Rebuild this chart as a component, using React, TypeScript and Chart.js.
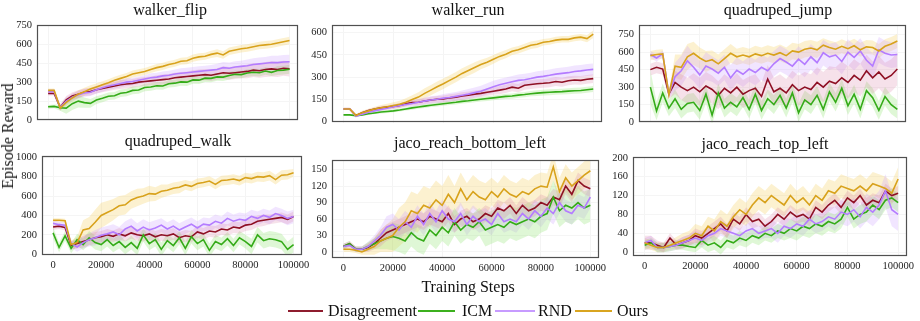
import React, { useEffect, useRef } from "react";
import { Chart, registerables } from "chart.js";
Chart.register(...registerables);

const steps = [0,2500,5000,7500,10000,12500,15000,17500,20000,22500,25000,27500,30000,32500,35000,37500,40000,42500,45000,47500,50000,52500,55000,57500,60000,62500,65000,67500,70000,72500,75000,77500,80000,82500,85000,87500,90000,92500,95000,97500,100000];
const xTicks = [0,20000,40000,60000,80000,100000];
const seriesNames = ["Disagreement","ICM","RND","Ours"];

// walker_flip
const flipDis = [210,210,100,160,190,205,220,225,240,250, 260,270,280,285,290,300,305,310,315,320, 325,335,340,345,350,355,360,355,365,375, 370,375,380,385,395,390,400,405,400,410, 405];
const flipIcm = [105,108,98,95,130,150,138,132,158,172, 188,192,212,218,235,238,258,262,272,270, 288,292,302,300,318,316,332,330,342,340, 352,362,360,372,378,375,388,378,392,395, 402];
const flipRnd = [225,225,100,150,180,200,215,220,240,255, 270,280,290,300,305,315,325,335,340,350, 355,365,370,375,380,385,390,395,400,415, 410,420,425,430,440,445,450,455,455,460, 462];
const flipOurs = [235,235,95,140,175,205,225,245,262,280, 295,315,330,345,365,375,385,400,415,425, 440,450,465,470,490,500,505,520,530,515, 545,555,565,570,580,590,595,600,610,620, 630];
const flipDisS = [15,15,25,30,30,30,30,30,30,30, 30,30,35,35,35,35,35,35,40,40, 40,40,40,40,45,45,45,45,45,50, 50,50,50,55,55,55,60,60,60,60, 60];
const flipIcmS = [15,15,25,45,50,50,40,35,30,30, 30,30,30,30,30,30,30,30,30,30, 30,30,30,30,30,30,30,30,30,30, 30,30,30,30,30,30,30,30,35,35, 35];
const flipRndS = [20,20,25,30,30,30,30,30,30,30, 30,30,30,30,30,30,30,35,35,35, 35,35,40,40,40,40,40,40,45,45, 45,45,45,50,50,50,50,55,55,55, 55];
const flipOursS = [15,15,20,30,30,30,30,30,28,28, 28,28,28,28,28,28,28,28,28,28, 28,28,28,28,28,28,28,28,30,30, 30,30,30,30,30,30,30,30,30,30, 30];

// walker_run
const runDis = [85,85,40,60,75,85,92,97,102,108, 120,128,130,138,145,150,152,160,165,172, 178,185,190,198,205,212,220,232,225,245, 250,255,258,262,270,265,275,280,278,285, 290];
const runIcm = [45,45,40,45,52,58,64,68,72,78, 85,92,98,104,110,115,120,125,130,136, 140,145,150,155,160,165,170,172,178,182, 188,192,195,198,200,202,205,208,210,215, 220];
const runRnd = [85,85,35,50,62,72,82,90,100,108, 115,122,130,138,145,150,158,162,170,178, 185,195,205,220,235,248,258,268,278,282, 290,300,305,312,320,325,330,338,342,348, 352];
const runOurs = [85,85,40,60,72,85,93,100,108,116, 130,148,165,190,212,235,255,278,300,325, 345,365,385,400,420,440,455,475,485,500, 515,522,535,540,550,555,555,565,570,560, 590];
const runDisS = [8,8,8,10,10,10,12,12,14,15, 16,18,20,20,22,22,24,25,25,25, 25,25,25,25,25,28,28,28,28,30, 30,30,30,30,30,30,30,30,30,30, 30];
const runIcmS = [6,6,6,8,8,8,10,10,10,10, 10,12,12,12,12,14,14,14,15,15, 15,15,15,16,16,16,18,18,18,18, 18,20,20,20,20,20,20,20,20,20, 20];
const runRndS = [8,8,8,10,10,12,12,14,15,16, 18,20,22,24,25,26,28,30,30,32, 34,35,36,38,40,40,40,40,40,40, 40,40,40,40,40,40,40,40,40,40, 40];
const runOursS = [8,8,10,12,15,15,18,20,22,25, 28,30,32,35,35,35,35,35,35,35, 35,35,32,30,30,28,28,25,25,25, 25,25,22,22,22,22,22,22,22,25, 25];

// quadruped_jump
const jumpDis = [450,470,455,240,340,300,270,300,260,310, 280,230,290,250,300,240,270,290,220,370, 260,290,250,320,270,300,280,340,300,350, 330,380,340,400,360,440,380,430,370,400, 455];
const jumpIcm = [300,95,250,120,200,110,160,170,100,240, 60,250,120,170,130,210,110,240,100,200, 150,230,120,250,80,190,150,230,110,260, 170,290,140,240,110,270,210,100,220,150, 110];
const jumpRnd = [580,550,585,240,390,440,525,470,405,480, 455,420,470,380,445,410,455,425,470,440, 500,545,515,480,540,495,560,510,595,560, 575,520,600,555,610,530,480,620,590,575, 580];
const jumpOurs = [570,580,585,235,480,470,560,590,550,520, 535,500,545,590,560,575,560,585,570,590, 575,595,570,610,600,625,635,620,660,640, 625,650,630,655,620,645,640,610,650,670, 695];
const jumpDisS = [50,50,50,40,100,110,110,120,120,120, 120,120,120,120,120,120,120,120,120,120, 120,120,120,120,130,130,130,130,130,130, 140,140,140,140,140,140,140,140,140,140, 140];
const jumpIcmS = [150,80,80,70,80,80,80,80,80,80, 80,80,80,80,80,80,80,80,80,80, 80,80,80,80,80,80,80,80,80,80, 80,80,80,80,80,80,80,80,80,80, 80];
const jumpRndS = [30,30,30,30,120,130,130,120,120,120, 110,110,110,110,110,110,110,110,110,110, 110,110,110,110,110,110,110,110,110,110, 110,110,110,110,110,110,110,110,110,110, 110];
const jumpOursS = [40,40,40,30,100,110,110,100,90,90, 80,80,80,80,70,70,70,70,70,70, 70,70,70,70,70,70,70,70,60,60, 60,60,60,60,60,60,60,60,60,60, 60];

// quadruped_walk
const walkDis = [280,290,275,90,110,130,150,170,180,200, 185,210,190,220,200,190,210,180,200,190, 210,170,190,180,230,210,240,230,260,250, 280,270,300,310,340,350,360,370,380,360, 390];
const walkIcm = [220,70,190,60,150,100,170,120,100,150, 90,130,70,120,60,200,110,150,50,140, 90,170,60,180,110,150,40,130,100,160, 90,170,130,80,200,140,160,150,130,50, 100];
const walkRnd = [320,305,300,110,75,120,150,170,195,210, 230,200,260,290,240,280,250,270,300,260, 290,250,280,310,270,310,300,340,320,370, 340,360,350,390,370,400,380,420,400,370, 390];
const walkOurs = [350,350,345,100,120,250,265,330,400,430, 460,500,510,560,585,600,625,620,650,660, 680,690,715,700,730,740,755,720,760,765, 775,760,790,780,800,795,810,770,815,820, 840];
const walkDisS = [30,30,30,40,50,60,60,60,60,60, 60,60,60,60,60,60,60,60,60,60, 60,60,60,60,60,60,60,60,60,60, 60,60,60,60,60,60,50,50,50,50, 50];
const walkIcmS = [60,50,50,50,60,60,70,70,70,70, 70,70,70,70,70,70,70,70,70,70, 70,70,70,70,70,70,70,70,70,70, 70,70,70,80,80,80,80,80,80,80, 80];
const walkRndS = [30,30,30,40,50,60,70,80,80,80, 80,80,80,80,80,80,80,80,70,70, 70,70,70,70,70,70,70,70,70,70, 70,70,70,70,70,70,70,70,70,70, 70];
const walkOursS = [20,20,20,40,60,100,120,130,130,120, 110,100,100,90,90,80,80,70,70,60, 60,60,50,50,50,50,50,50,50,50, 50,50,50,50,50,50,50,50,50,50, 40];

// jaco_reach_bottom_left
const blDis = [10,15,5,5,8,15,25,35,40,45, 50,55,60,55,65,60,55,70,50,60, 65,55,60,70,65,80,75,85,70,85, 75,80,90,85,100,95,120,105,130,120, 115];
const blIcm = [10,15,5,5,10,15,20,25,28,25, 20,35,25,20,40,30,45,35,55,40, 50,45,55,40,45,50,45,55,50,55, 60,55,65,70,100,75,85,80,90,80, 85];
const blRnd = [10,12,5,5,10,20,30,45,50,40, 55,45,65,50,70,55,75,60,55,70, 50,65,55,60,50,70,55,60,55,70, 60,75,65,80,70,90,75,70,85,80, 100];
const blOurs = [5,5,3,0,5,10,20,25,30,45, 55,75,70,85,80,95,85,105,90,115, 95,110,100,95,110,100,115,105,100,110, 105,115,120,118,155,110,135,120,130,140, 148];
const blDisS = [5,5,5,5,8,10,15,15,15,15, 15,15,15,15,15,15,15,15,15,15, 15,15,15,15,15,15,15,15,15,15, 15,15,15,15,15,15,15,15,15,15, 15];
const blIcmS = [5,5,5,5,8,10,15,20,25,25, 25,25,25,25,25,25,25,25,25,25, 25,25,25,30,30,30,30,30,30,30, 30,30,30,30,30,30,30,30,30,30, 30];
const blRndS = [5,5,5,5,8,10,15,20,20,20, 20,20,20,20,20,20,20,20,20,20, 20,20,20,20,20,20,20,20,20,20, 20,20,20,20,20,20,20,20,20,20, 20];
const blOursS = [5,5,5,5,10,15,20,25,30,35, 35,35,35,35,35,35,35,35,30,30, 30,30,30,30,25,25,25,25,25,25, 25,25,25,25,25,25,25,25,25,25, 25];

// jaco_reach_top_left
const tlDis = [20,20,15,10,30,15,20,25,35,30, 40,50,60,45,70,60,80,65,70,55, 65,80,70,85,75,80,70,95,85,100, 110,95,115,105,120,100,110,105,130,120, 125];
const tlIcm = [15,20,10,10,12,15,15,12,10,25, 15,20,10,25,20,30,25,35,30,40, 35,45,40,50,45,55,50,60,55,65, 60,70,95,70,80,85,100,90,110,115, 105];
const tlRnd = [20,25,10,10,12,15,20,25,30,25, 35,40,50,45,40,35,45,50,40,45, 50,40,55,50,60,55,70,60,65,75, 70,85,80,90,75,95,85,100,130,90, 80];
const tlOurs = [20,15,10,10,15,20,25,30,40,35, 55,45,65,55,75,90,80,100,115,105, 120,110,100,120,105,115,100,120,110,130, 125,140,135,130,140,130,145,140,135,125, 155];
const tlDisS = [15,15,10,10,10,10,12,12,15,15, 15,15,15,15,15,15,15,15,15,15, 15,15,15,15,15,15,15,15,15,15, 15,15,15,15,15,15,15,15,15,15, 15];
const tlIcmS = [10,10,10,10,10,10,10,10,10,15, 15,15,15,15,15,15,15,15,15,15, 15,15,15,20,20,20,20,20,20,20, 20,20,20,20,20,20,20,20,20,20, 20];
const tlRndS = [10,10,10,10,10,10,12,12,15,15, 15,15,15,15,15,15,15,15,15,15, 20,20,20,20,20,20,20,20,20,20, 25,25,25,25,25,30,30,30,35,35, 35];
const tlOursS = [10,10,10,10,10,12,15,15,20,20, 20,25,25,25,25,25,25,25,25,25, 25,25,25,25,25,25,25,25,25,25, 25,25,25,25,25,25,25,25,25,25, 25];

const flipTicks = [0,150,300,450,600,750];
const runTicks = [0,150,300,450,600];
const jumpTicks = [0,150,300,450,600,750];
const walkTicks = [0,200,400,600,800,1000];
const blTicks = [0,30,60,90,120,150];
const tlTicks = [0,40,80,120,160,200];

const COLORS = ["#8e1024", "#34ab18", "#b47cff", "#d8a21c"];
const BANDS = ["rgba(214,120,160,0.22)", "rgba(150,230,120,0.30)", "rgba(205,160,255,0.28)", "rgba(245,208,100,0.30)"];
const LEGEND_COLORS = ["#8e1c2e", "#3cb01e", "#c79bff", "#d9a520"];

const FONT = '"Liberation Serif", "Times New Roman", serif';

type PanelDef = {
  title: string; L: number; T: number; R: number; B: number;
  yMin: number; yMax: number; yTicks: number[]; showX: boolean;
  means: number[][]; spreads: number[][]; tx: number; ty: number;
};

const panels: PanelDef[] = [
  { title: "walker_flip", L: 37, T: 22, R: 298, B: 124, yMin: -5, yMax: 750, yTicks: flipTicks, showX: false,
    means: [flipDis, flipIcm, flipRnd, flipOurs], spreads: [flipDisS, flipIcmS, flipRndS, flipOursS], tx: 170, ty: 10 },
  { title: "walker_run", L: 332, T: 22, R: 602, B: 126, yMin: -8, yMax: 650, yTicks: runTicks, showX: false,
    means: [runDis, runIcm, runRnd, runOurs], spreads: [runDisS, runIcmS, runRndS, runOursS], tx: 468, ty: 10 },
  { title: "quadruped_jump", L: 639, T: 22, R: 906, B: 126, yMin: -5, yMax: 830, yTicks: jumpTicks, showX: false,
    means: [jumpDis, jumpIcm, jumpRnd, jumpOurs], spreads: [jumpDisS, jumpIcmS, jumpRndS, jumpOursS], tx: 778, ty: 10 },
  { title: "quadruped_walk", L: 42, T: 153, R: 302, B: 255, yMin: -8, yMax: 1010, yTicks: walkTicks, showX: true,
    means: [walkDis, walkIcm, walkRnd, walkOurs], spreads: [walkDisS, walkIcmS, walkRndS, walkOursS], tx: 178, ty: 141 },
  { title: "jaco_reach_bottom_left", L: 332, T: 157, R: 599, B: 258, yMin: -11, yMax: 167, yTicks: blTicks, showX: true,
    means: [blDis, blIcm, blRnd, blOurs], spreads: [blDisS, blIcmS, blRndS, blOursS], tx: 470, ty: 143 },
  { title: "jaco_reach_top_left", L: 633, T: 154, R: 907, B: 256, yMin: -8, yMax: 201, yTicks: tlTicks, showX: true,
    means: [tlDis, tlIcm, tlRnd, tlOurs], spreads: [tlDisS, tlIcmS, tlRndS, tlOursS], tx: 765, ty: 144 },
];

const YW = 36, PT = 8, PR = 14, XH = 20;

const framePlugin = {
  id: "frame",
  afterDraw(chart: any) {
    const { ctx, chartArea: a } = chart;
    ctx.save();
    ctx.strokeStyle = "#505050";
    ctx.lineWidth = 1.2;
    ctx.strokeRect(Math.round(a.left) + 0.5, Math.round(a.top) + 0.5, Math.round(a.right - a.left) - 1, Math.round(a.bottom - a.top) - 1);
    ctx.restore();
  },
};

function Panel({ p }: { p: PanelDef }) {
  const ref = useRef<HTMLCanvasElement | null>(null);
  const W = p.R - p.L + YW + PR;
  const H = p.B - p.T + PT + (p.showX ? XH : 8);
  useEffect(() => {
    if (!ref.current) return;
    const datasets: any[] = [];
    seriesNames.forEach((_, i) => {
      const m = p.means[i], sp = p.spreads[i];
      const up = datasets.length;
      datasets.push({ data: steps.map((x, k) => ({ x, y: m[k] + sp[k] })), borderWidth: 0, borderColor: "transparent", pointRadius: 0, fill: false, order: 10 });
      datasets.push({ data: steps.map((x, k) => ({ x, y: m[k] - sp[k] })), borderWidth: 0, borderColor: "transparent", pointRadius: 0, fill: up, backgroundColor: BANDS[i], order: 10 });
    });
    seriesNames.forEach((name, i) => {
      datasets.push({ label: name, data: steps.map((x, k) => ({ x, y: p.means[i][k] })), borderColor: COLORS[i], borderWidth: 1.6, pointRadius: 0, fill: false, tension: 0, order: 3 - i });
    });
    const tickFont = { family: FONT, size: 10.5 };
    const chart = new Chart(ref.current, {
      type: "line",
      data: { datasets },
      plugins: [framePlugin],
      options: {
        responsive: false,
        animation: false,
        devicePixelRatio: 1,
        layout: { padding: { left: 0, top: PT, right: PR, bottom: p.showX ? 0 : 8 } },
        plugins: { legend: { display: false }, title: { display: false }, tooltip: { enabled: false } },
        scales: {
          x: {
            type: "linear", min: -4600, max: 103500,
            afterBuildTicks: (s: any) => { s.ticks = xTicks.map((v) => ({ value: v })); },
            afterFit: (s: any) => { s.height = p.showX ? XH : 0; },
            ticks: { display: p.showX, font: tickFont, color: "#222", padding: 4, maxRotation: 0, autoSkip: false, callback: (v: any) => String(v) },
            grid: { color: "#f4f4f4", drawTicks: false },
            border: { display: false },
          },
          y: {
            min: p.yMin, max: p.yMax,
            afterBuildTicks: (s: any) => { s.ticks = p.yTicks.map((v) => ({ value: v })); },
            afterFit: (s: any) => { s.width = YW; },
            ticks: { font: tickFont, color: "#222", padding: 5, autoSkip: false, callback: (v: any) => String(v) },
            grid: { color: "#f5f5f5", drawTicks: false },
            border: { display: false },
          },
        },
      } as any,
    });
    return () => chart.destroy();
  }, []);
  return (
    <>
      <canvas ref={ref} width={W} height={H}
        style={{ position: "absolute", left: p.L - YW, top: p.T - PT, width: W, height: H }} />
      <div style={{ position: "absolute", left: p.tx, top: p.ty, transform: "translate(-50%,-50%)", fontFamily: FONT, fontSize: 16, color: "#111", whiteSpace: "nowrap" }}>
        {p.title}
      </div>
    </>
  );
}

const legendItems = [
  { name: "Disagreement", lineL: 288, lineR: 323, textL: 328 },
  { name: "ICM", lineL: 418, lineR: 455, textL: 462 },
  { name: "RND", lineL: 495, lineR: 535, textL: 538 },
  { name: "Ours", lineL: 575, lineR: 612, textL: 617 },
];

export default function App() {
  return (
    <div style={{ position: "absolute", left: 0, top: 0, width: 920, height: 321, background: "#fff", overflow: "hidden", fontFamily: FONT }}>
      {panels.map((p) => <Panel key={p.title} p={p} />)}
      <div style={{ position: "absolute", left: 8, top: 136, transform: "translate(-50%,-50%) rotate(-90deg)", fontSize: 16, color: "#111", whiteSpace: "nowrap" }}>
        Episode Reward
      </div>
      <div style={{ position: "absolute", left: 468, top: 287, transform: "translate(-50%,-50%)", fontSize: 16, color: "#111", whiteSpace: "nowrap" }}>
        Training Steps
      </div>
      {legendItems.map((it, i) => (
        <React.Fragment key={it.name}>
          <div style={{ position: "absolute", left: it.lineL, top: 310, width: it.lineR - it.lineL, height: 2, background: LEGEND_COLORS[i] }} />
          <div style={{ position: "absolute", left: it.textL, top: 311, transform: "translateY(-50%)", fontSize: 16, color: "#111", whiteSpace: "nowrap" }}>
            {it.name}
          </div>
        </React.Fragment>
      ))}
    </div>
  );
}
